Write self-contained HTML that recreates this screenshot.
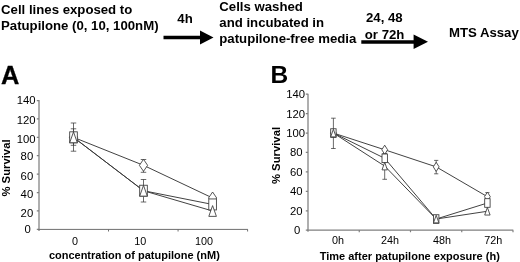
<!DOCTYPE html>
<html><head><meta charset="utf-8"><title>Figure</title>
<style>
html,body{margin:0;padding:0;background:#fff;}
body{width:520px;height:262px;overflow:hidden;}
svg{display:block;font-family:'Liberation Sans', Arial, sans-serif;fill:#000;}
</style></head><body>
<svg width="520" height="262" viewBox="0 0 520 262">
<rect width="520" height="262" fill="#fff"/>
<text x="1.1" y="14.2" font-size="13.2" font-weight="bold" text-anchor="start" >Cell lines exposed to</text>
<text x="1.0" y="30" font-size="13.2" font-weight="bold" text-anchor="start" >Patupilone (0, 10, 100nM)</text>
<text x="177.3" y="23.4" font-size="13.2" font-weight="bold" text-anchor="start" >4h</text>
<path d="M163.5 35.7H200V30.5L213.5 37.5L200 44.5V39.3H163.5Z" fill="#000"/>
<text x="219.3" y="11.3" font-size="13.2" font-weight="bold" text-anchor="start" >Cells washed</text>
<text x="219.3" y="27.2" font-size="13.2" font-weight="bold" text-anchor="start" >and incubated in</text>
<text x="219.3" y="43.1" font-size="13.2" font-weight="bold" text-anchor="start" >patupilone-free media</text>
<text x="366" y="21.5" font-size="13.2" font-weight="bold" text-anchor="start" >24, 48</text>
<text x="364.8" y="39.2" font-size="13.2" font-weight="bold" text-anchor="start" >or 72h</text>
<path d="M361.3 40.2H413.6V34.6L428 41.8L413.6 49V43.7H361.3Z" fill="#000"/>
<text x="448.9" y="36.8" font-size="13.2" font-weight="bold" text-anchor="start" >MTS Assay</text>
<text x="0.9" y="83.5" font-size="25.4" font-weight="bold" text-anchor="start" stroke="#000" stroke-width="0.3">A</text>
<text x="270.4" y="82.8" font-size="24.5" font-weight="bold" text-anchor="start" >B</text>
<path d="M39 100.0V231.0M36.8 100.50H39M36.8 118.91H39M36.8 137.33H39M36.8 155.74H39M36.8 174.16H39M36.8 192.57H39M36.8 210.99H39M36.8 229.40H39" fill="none" stroke="#808080" stroke-width="1.25"/>
<path d="M38.4 229.4H247.9M108.53 229.4V231.5M178.07 229.4V231.5M247.60 229.4V231.5" fill="none" stroke="#6e6e6e" stroke-width="1.0"/>
<text x="35.60" y="104.45" font-size="11.3"  text-anchor="end" >140</text>
<text x="35.60" y="123.76" font-size="11.3"  text-anchor="end" >120</text>
<text x="35.60" y="142.58" font-size="11.3"  text-anchor="end" >100</text>
<text x="33.20" y="159.79" font-size="11.3"  text-anchor="end" >80</text>
<text x="33.20" y="179.51" font-size="11.3"  text-anchor="end" >60</text>
<text x="33.20" y="198.42" font-size="11.3"  text-anchor="end" >40</text>
<text x="33.20" y="216.64" font-size="11.3"  text-anchor="end" >20</text>
<text x="30.80" y="233.35" font-size="11.3"  text-anchor="end" >0</text>
<text x="74.9" y="244.9" font-size="10.8"  text-anchor="middle" >0</text>
<text x="140.3" y="244.9" font-size="10.8"  text-anchor="middle" >10</text>
<text x="204" y="244.9" font-size="10.8"  text-anchor="middle" >100</text>
<text transform="translate(48.9 259.3) scale(1 1.05)" font-size="11" font-weight="bold">concentration of patupilone (nM)</text>
<text transform="translate(9.8 168) rotate(-90)" font-size="11.3" font-weight="bold" text-anchor="middle">% Survival</text>
<polyline points="73.50,137.33 143.50,165.32 212.60,198.00" fill="none" stroke="#383838" stroke-width="0.95"/>
<polyline points="73.50,137.33 143.50,190.73 212.60,204.45" fill="none" stroke="#383838" stroke-width="0.95"/>
<polyline points="73.50,137.33 143.50,190.73 212.60,210.99" fill="none" stroke="#383838" stroke-width="0.95"/>
<path d="M73.50 123.00V151.20M70.75 123.00H76.25M70.75 151.20H76.25" fill="none" stroke="#383838" stroke-width="0.75"/>
<path d="M73.50 128.80V145.30M70.75 128.80H76.25M70.75 145.30H76.25" fill="none" stroke="#383838" stroke-width="0.75"/>
<path d="M143.50 159.50V172.30M140.75 159.50H146.25M140.75 172.30H146.25" fill="none" stroke="#383838" stroke-width="0.75"/>
<path d="M143.50 179.50V202.00M140.75 179.50H146.25M140.75 202.00H146.25" fill="none" stroke="#383838" stroke-width="0.75"/>
<polygon points="73.50,131.33 77.60,137.33 73.50,143.33 69.40,137.33" fill="#fff" stroke="#383838" stroke-width="0.85"/>
<polygon points="143.50,159.32 147.60,165.32 143.50,171.32 139.40,165.32" fill="#fff" stroke="#383838" stroke-width="0.85"/>
<polygon points="212.60,192.00 216.70,198.00 212.60,204.00 208.50,198.00" fill="#fff" stroke="#383838" stroke-width="0.85"/>
<rect x="69.70" y="131.83" width="7.6" height="11" fill="#fff" stroke="#383838" stroke-width="0.85"/>
<rect x="139.70" y="185.23" width="7.6" height="11" fill="#fff" stroke="#383838" stroke-width="0.85"/>
<rect x="208.80" y="198.95" width="7.6" height="11" fill="#fff" stroke="#383838" stroke-width="0.85"/>
<polygon points="73.50,131.93 77.30,142.73 69.70,142.73" fill="#fff" stroke="#383838" stroke-width="0.85"/>
<polygon points="143.50,185.33 147.30,196.13 139.70,196.13" fill="#fff" stroke="#383838" stroke-width="0.85"/>
<polygon points="212.60,205.59 216.40,216.39 208.80,216.39" fill="#fff" stroke="#383838" stroke-width="0.85"/>
<path d="M308 93.7V231.79999999999998M305.8 94.20H308M305.8 113.63H308M305.8 133.06H308M305.8 152.49H308M305.8 171.91H308M305.8 191.34H308M305.8 210.77H308M305.8 230.20H308" fill="none" stroke="#808080" stroke-width="1.25"/>
<path d="M307.4 230.2H513.3M359.25 230.2V232.29999999999998M410.50 230.2V232.29999999999998M461.75 230.2V232.29999999999998M513.00 230.2V232.29999999999998" fill="none" stroke="#808080" stroke-width="1.2"/>
<text x="305.00" y="97.80" font-size="11.3"  text-anchor="end" >140</text>
<text x="305.00" y="117.53" font-size="11.3"  text-anchor="end" >120</text>
<text x="305.00" y="136.76" font-size="11.3"  text-anchor="end" >100</text>
<text x="302.60" y="156.09" font-size="11.3"  text-anchor="end" >80</text>
<text x="302.60" y="175.71" font-size="11.3"  text-anchor="end" >60</text>
<text x="302.60" y="195.19" font-size="11.3"  text-anchor="end" >40</text>
<text x="302.60" y="215.47" font-size="11.3"  text-anchor="end" >20</text>
<text x="300.20" y="233.80" font-size="11.3"  text-anchor="end" >0</text>
<text x="338" y="243.7" font-size="10.8"  text-anchor="middle" >0h</text>
<text x="390" y="243.7" font-size="10.8"  text-anchor="middle" >24h</text>
<text x="442" y="243.7" font-size="10.8"  text-anchor="middle" >48h</text>
<text x="493.3" y="243.7" font-size="10.8"  text-anchor="middle" >72h</text>
<text transform="translate(319.7 259.5) scale(1 1.0)" font-size="11" font-weight="bold">Time after patupilone exposure (h)</text>
<text transform="translate(280.3 155.5) rotate(-90)" font-size="11.3" font-weight="bold" text-anchor="middle">% Survival</text>
<polyline points="333.40,133.06 384.70,149.77 436.20,166.86 487.40,196.69" fill="none" stroke="#383838" stroke-width="0.95"/>
<polyline points="333.40,133.06 384.70,158.31 436.20,219.03 487.40,203.00" fill="none" stroke="#383838" stroke-width="0.95"/>
<polyline points="333.40,133.06 384.70,166.09 436.20,219.03 487.40,211.26" fill="none" stroke="#383838" stroke-width="0.95"/>
<path d="M333.40 118.20V148.50M331.10 118.20H335.70M331.10 148.50H335.70" fill="none" stroke="#383838" stroke-width="0.75"/>
<path d="M384.70 153.50V179.30M382.40 153.50H387.00M382.40 179.30H387.00" fill="none" stroke="#383838" stroke-width="0.75"/>
<path d="M436.20 160.40V173.80M434.10 160.40H438.30M434.10 173.80H438.30" fill="none" stroke="#383838" stroke-width="0.75"/>
<path d="M487.40 192.60V203.00M485.30 192.60H489.50M485.30 203.00H489.50" fill="none" stroke="#383838" stroke-width="0.75"/>
<polygon points="333.40,128.46 336.30,133.06 333.40,137.66 330.50,133.06" fill="#fff" stroke="#383838" stroke-width="0.85"/>
<polygon points="384.70,145.17 387.60,149.77 384.70,154.37 381.80,149.77" fill="#fff" stroke="#383838" stroke-width="0.85"/>
<polygon points="436.20,162.26 439.10,166.86 436.20,171.46 433.30,166.86" fill="#fff" stroke="#383838" stroke-width="0.85"/>
<polygon points="487.40,192.09 490.30,196.69 487.40,201.29 484.50,196.69" fill="#fff" stroke="#383838" stroke-width="0.85"/>
<rect x="330.70" y="128.76" width="5.4" height="8.6" fill="#fff" stroke="#383838" stroke-width="0.85"/>
<rect x="382.00" y="154.01" width="5.4" height="8.6" fill="#fff" stroke="#383838" stroke-width="0.85"/>
<rect x="433.50" y="214.73" width="5.4" height="8.6" fill="#fff" stroke="#383838" stroke-width="0.85"/>
<rect x="484.70" y="198.70" width="5.4" height="8.6" fill="#fff" stroke="#383838" stroke-width="0.85"/>
<polygon points="333.40,129.26 336.10,136.86 330.70,136.86" fill="#fff" stroke="#383838" stroke-width="0.85"/>
<polygon points="384.70,162.29 387.40,169.89 382.00,169.89" fill="#fff" stroke="#383838" stroke-width="0.85"/>
<polygon points="436.20,215.23 438.90,222.83 433.50,222.83" fill="#fff" stroke="#383838" stroke-width="0.85"/>
<polygon points="487.40,207.46 490.10,215.06 484.70,215.06" fill="#fff" stroke="#383838" stroke-width="0.85"/>
</svg>
</body></html>
